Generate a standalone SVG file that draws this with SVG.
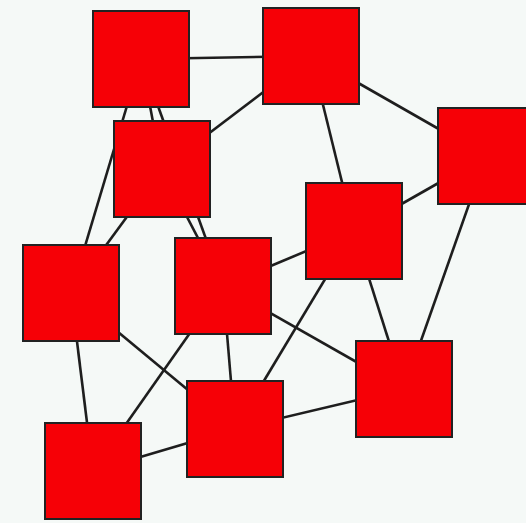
<svg xmlns="http://www.w3.org/2000/svg" width="526" height="523" viewBox="0 0 526 523">
<style>
.e{stroke:#1e1e1e;stroke-width:2.6;fill:none}
.n{fill:#f60006;stroke:#222;stroke-width:2}
</style>
<rect width="526" height="523" fill="#f5f9f7"/>
<g id="edges">
<line class="e" x1="141" y1="59" x2="311" y2="56"/>
<line class="e" x1="141" y1="59" x2="162" y2="169"/>
<line class="e" x1="141" y1="59" x2="71" y2="293"/>
<line class="e" x1="141" y1="59" x2="223" y2="286"/>
<line class="e" x1="311" y1="56" x2="162" y2="169"/>
<line class="e" x1="311" y1="56" x2="354" y2="231"/>
<line class="e" x1="311" y1="56" x2="486" y2="156"/>
<line class="e" x1="486" y1="156" x2="354" y2="231"/>
<line class="e" x1="486" y1="156" x2="404" y2="389"/>
<line class="e" x1="162" y1="169" x2="71" y2="293"/>
<line class="e" x1="162" y1="169" x2="223" y2="286"/>
<line class="e" x1="354" y1="231" x2="223" y2="286"/>
<line class="e" x1="354" y1="231" x2="404" y2="389"/>
<line class="e" x1="354" y1="231" x2="235" y2="429"/>
<line class="e" x1="71" y1="293" x2="235" y2="429"/>
<line class="e" x1="71" y1="293" x2="93" y2="471"/>
<line class="e" x1="223" y1="286" x2="93" y2="471"/>
<line class="e" x1="223" y1="286" x2="235" y2="429"/>
<line class="e" x1="223" y1="286" x2="404" y2="389"/>
<line class="e" x1="404" y1="389" x2="235" y2="429"/>
<line class="e" x1="235" y1="429" x2="93" y2="471"/>
</g>
<g id="A"><rect class="n" x="93" y="11" width="96" height="96"/></g>
<g id="B"><rect class="n" x="263" y="8" width="96" height="96"/></g>
<g id="C"><rect class="n" x="438" y="108" width="96" height="96"/></g>
<g id="D"><rect class="n" x="114" y="121" width="96" height="96"/></g>
<g id="E"><rect class="n" x="306" y="183" width="96" height="96"/></g>
<g id="F"><rect class="n" x="23" y="245" width="96" height="96"/></g>
<g id="G"><rect class="n" x="175" y="238" width="96" height="96"/></g>
<g id="H"><rect class="n" x="356" y="341" width="96" height="96"/></g>
<g id="I"><rect class="n" x="187" y="381" width="96" height="96"/></g>
<g id="J"><rect class="n" x="45" y="423" width="96" height="96"/></g>
</svg>
